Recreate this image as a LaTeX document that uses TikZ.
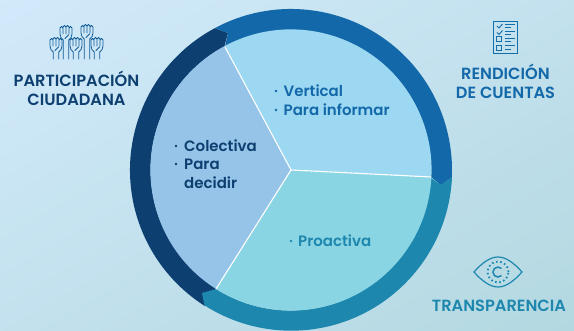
\documentclass[tikz,border=0pt]{standalone}
\usepackage{fontspec}
\setmainfont[BoldFont={Poppins SemiBold}]{Poppins}
\definecolor{cdark}{HTML}{0D3F70}
\definecolor{cblue}{HTML}{1268A8}
\definecolor{cteal}{HTML}{1D87AE}
\definecolor{wleft}{HTML}{95C4E8}
\definecolor{wtop}{HTML}{9DD8F3}
\definecolor{wbot}{HTML}{8AD5E3}
\definecolor{bgA}{HTML}{D2EAFB}
\definecolor{bgB}{HTML}{B3D8E0}
\tikzset{
 x=1pt,y=1pt,
 heading/.style={font=\bfseries\fontsize{16.2}{19}\selectfont,align=center,inner sep=0pt},
 item/.style={font=\bfseries\fontsize{15}{18}\selectfont,anchor=base west,inner sep=0pt},
 bul/.style={circle,inner sep=0pt,minimum size=2.8pt},
 spoke/.style={draw=white,line width=1.1pt},
 hand/.pic={
  \draw[cblue!70!cdark,line width=.8pt,line join=round,line cap=round]
   (-2.8,-#1) -- (-2.8,0) .. controls (-4.5,1.5) and (-6,3) .. (-6,6) -- (-6,12)
   arc (180:0:1.5) -- (-3,6) (-3,13) arc (180:0:1.5) -- (0,6) (0,13) arc (180:0:1.5) -- (3,6)
   (3,12) arc (180:0:1.5) -- (6,6) .. controls (6,3) and (4.5,1.5) .. (2.8,0) -- (2.8,-#1)
   (-1,1.5) -- (2.5,5);
 }
}
\begin{document}
\begin{tikzpicture}
\useasboundingbox (0,0) rectangle (574,331);
\begin{scope}
\clip (0,0) rectangle (574,331);
\shade[left color=bgA,right color=bgB,shading angle=30] (-20,-120) rectangle (594,451);
\end{scope}
\clip (0,0) rectangle (574,331);
\coordinate (c) at (291,161);
% ring
\fill[cdark] (c) ++(118.2:161) arc (118.2:237.6:161) -- ++(57.6:21) arc (237.8:118.2:140) -- (228,298) -- cycle;
\fill[cblue] (c) ++(118.2:161) arc (118.2:-2.6:161) -- (441,146) -- (431,154) arc (-2.9:118.2:140) -- (228,298) -- cycle;
\fill[cteal] (452,154) arc (-2.6:-122.6:161) -- (202,38) -- (216,42) arc (237.8:357.1:140) -- (441,146) -- cycle;
% wedges
\fill[wtop] (c) -- ++(118.2:140.6) arc (118.2:-2.9:140.6) -- cycle;
\fill[wbot] (c) -- ++(-2.9:140.6) arc (-2.9:-122.2:140.6) -- cycle;
\fill[wleft] (c) -- ++(237.8:140.6) arc (237.8:118.2:140.6) -- cycle;
\coordinate (s1) at (225,284);
\coordinate (s2) at (431,154);
\coordinate (s3) at (216,42);
\draw[spoke] (c) -- (s1);
\draw[spoke] (c) -- (s2);
\draw[spoke] (c) -- (s3);
% wedge texts
\node[bul,fill=cblue] (b1) at (276,240) {};
\node[item,text=cblue] (t1) at (283.5,234.5) {Vertical};
\node[bul,fill=cblue] (b2) at (276,221) {};
\node[item,text=cblue] (t2) at (283.5,215.5) {Para informar};
\node[bul,fill=cdark] (b3) at (176,185) {};
\node[item,text=cdark] (t3) at (184,179.5) {Colectiva};
\node[bul,fill=cdark] (b4) at (176,167) {};
\node[item,text=cdark] (t4) at (184,161.5) {Para};
\node[item,text=cdark] (t5) at (184,142.5) {decidir};
\node[bul,fill=cteal] (b5) at (291,90) {};
\node[item,text=cteal] (t6) at (298,84.5) {Proactiva};
% headings
\node[heading,text=cdark] (h1) at (76.5,242.5) {PARTICIPACIÓN\\CIUDADANA};
\node[heading,text=cblue] (h2) at (505.5,249.5) {RENDICIÓN\\DE CUENTAS};
\node[heading,text=cteal] (h3) at (499,25) {TRANSPARENCIA};
% hands icon
\pic at (56,279) {hand={7}};
\pic at (76,279) {hand={7}};
\pic at (97,279) {hand={7}};
\pic at (66,291) {hand={19}};
\pic at (87,292) {hand={20}};
% checklist icon
\begin{scope}[cblue!80!cteal,line width=.9pt]
\draw (493.5,278) rectangle (517.5,310);
\draw (497,305) -- (499,303) -- (502.5,307);
\draw (497,298.5) -- (499,296.5) -- (502.5,300.5);
\draw (496.5,289.5) rectangle (501.5,294.5);
\draw (496.5,281) rectangle (501.5,286);
\foreach \yy/\ww in {307/10,303.5/6,300/10,296.5/6,292.5/10,289.5/6,285.5/10,282/6}
  \draw (505,\yy) -- ++(\ww,0);
\end{scope}
% eye icon
\begin{scope}[cteal,line width=1.2pt]
\draw (474,59) .. controls (482,50) and (490,44) .. (498,44) .. controls (506,44) and (514,50) .. (522,59)
 .. controls (514,68) and (506,74) .. (498,74) .. controls (490,74) and (482,68) .. (474,59) -- cycle;
\draw[line width=1.8pt,dash pattern=on 1.6pt off 2.6pt] (498,59) circle (10.5);
\draw[line width=1.5pt] (501.5,62.5) arc (45:315:5);
\end{scope}
\end{tikzpicture}
\end{document}
